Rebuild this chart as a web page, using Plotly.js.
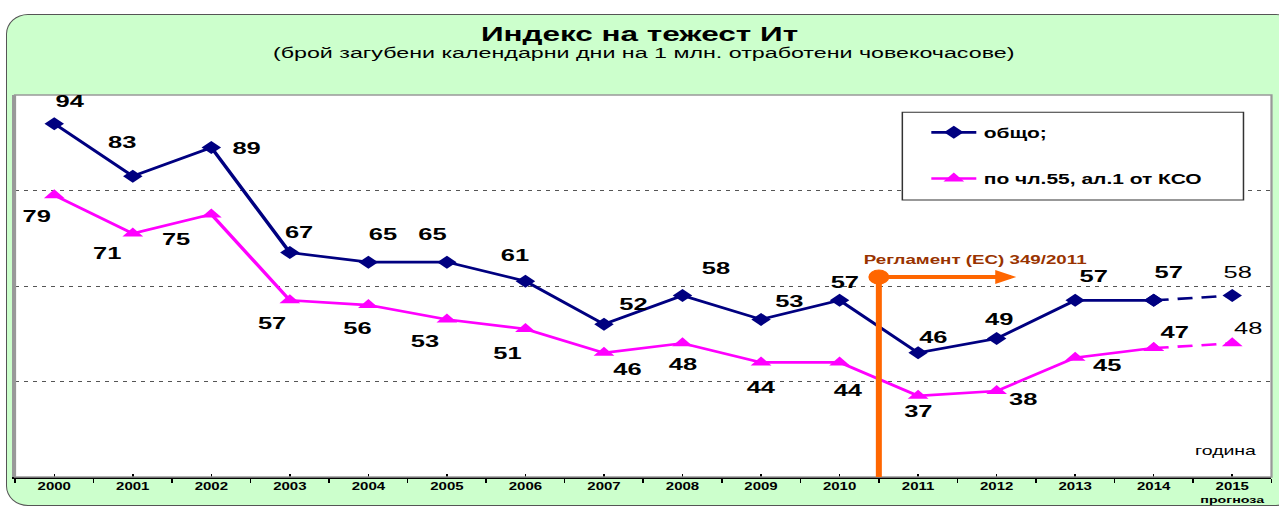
<!DOCTYPE html>
<html><head><meta charset="utf-8">
<script src="https://cdn.plot.ly/plotly-3.0.1.min.js"></script>
<style>
body{margin:0;background:#fff;overflow:hidden;}
#frame{position:absolute;left:6px;top:14px;width:1290px;height:490px;background:#ccffcc;border:1.5px solid #555;border-radius:22px/20px;}
#chart{position:absolute;left:0;top:0;width:853px;height:507px;transform:scaleX(1.49941);transform-origin:0 0;}
</style></head><body>
<div id="frame"></div><div id="chart"></div>
<script>
// ---- data ----
const years = ['2000','2001','2002','2003','2004','2005','2006','2007','2008','2009','2010','2011','2012','2013','2014','2015'];
const tickLabels = ['2000','2001','2002','2003','2004','2005','2006','2007','2008','2009','2010','2011','2012','2013','2014','2015<br><span style="font-size:9.5px">прогноза</span>'];
const total = [94, 83, 89, 67, 65, 65, 61, 52, 58, 53, 57, 46, 49, 57, 57, 58];
const art55 = [79, 71, 75, 57, 56, 53, 51, 46, 48, 44, 44, 37, 38, 45, 47, 48];
const seriesNames = ['общо;', 'по чл.55, ал.1 от КСО'];
const regulationText = 'Регламент (ЕС) 349/2011';

// ---- label offsets (px, in the final picture) ----
const totalOff = [[16,-22],[-11,-34],[36,1],[10,-20],[14,-28],[-15,-28],[-11,-26],[29,-20],[33,-27],[29,-18],[6,-18],[15,-15],[3,-19],[18,-24],[15,-28],[6,-23]];
const art55Off = [[-17,21],[-26,20],[-35,25],[-18,23],[-11,23],[-22,22],[-18,25],[23,17],[0,21],[0,25],[9,28],[0,16],[27,8],[32,8],[21,-16],[16,-15]];

const SX = 1279 / 853; // horizontal stretch of the original picture
const NAVY = '#000080', PINK = '#ff00ff', ORANGE = '#ff6600';
const FONT = 'Arial, "Liberation Sans", sans-serif';
const last = years.length - 1;
const idx = years.map((_, i) => i);

const traces = [
  {x: years.slice(0, last), y: total.slice(0, last), name: seriesNames[0], legendgroup: 'a', mode: 'lines+markers',
   line: {color: NAVY, width: 2.6}, marker: {symbol: 'diamond', size: 10, color: NAVY}},
  {x: years.slice(last - 1), y: total.slice(last - 1), showlegend: false, mode: 'lines+markers',
   line: {color: NAVY, width: 2.6, dash: '10px,6px'}, marker: {symbol: 'diamond', size: 10, color: NAVY}},
  {x: years.slice(0, last), y: art55.slice(0, last), name: seriesNames[1], legendgroup: 'b', mode: 'lines+markers',
   line: {color: PINK, width: 2.6}, marker: {symbol: 'triangle-up', size: 12, color: PINK}},
  {x: years.slice(last - 1), y: art55.slice(last - 1), showlegend: false, mode: 'lines+markers',
   line: {color: PINK, width: 2.6, dash: '10px,6px'}, marker: {symbol: 'triangle-up', size: 12, color: PINK}},
  {x: idx, y: idx.map(() => null), xaxis: 'x2', yaxis: 'y', showlegend: false, mode: 'markers', hoverinfo: 'skip'}
];

const annotations = [];
function addLabels(vals, offs) {
  vals.forEach((v, i) => {
    annotations.push({x: i, y: v, text: String(v), showarrow: false,
      xshift: offs[i][0] / SX, yshift: -offs[i][1],
      font: {family: FONT, size: 17, color: '#000', weight: i === last ? 'normal' : 'bold'}});
  });
}
addLabels(total, totalOff);
addLabels(art55, art55Off);

const regY = 61.9;
annotations.push({x: 12.25, y: regY, ax: 10.5, ay: regY, axref: 'x', ayref: 'y', text: '', showarrow: true,
  arrowcolor: ORANGE, arrowwidth: 4, arrowhead: 2, arrowsize: 0.7, startstandoff: 0});
annotations.push({x: 11.72, y: regY, text: '<b>' + regulationText + '</b>', showarrow: false, yshift: 17,
  font: {family: FONT, size: 12.5, color: '#993300'}});
annotations.push({xref: 'paper', yref: 'paper', x: 0.991, y: 0.073, xanchor: 'right', yshift: -11, text: 'година', showarrow: false,
  font: {family: FONT, size: 13, color: '#000'}});
annotations.push({xref: 'paper', yref: 'paper', x: 0.5, y: 1.0, yanchor: 'bottom', yshift: 32,
  text: '(брой загубени календарни дни на 1 млн. отработени човекочасове)', showarrow: false,
  font: {family: FONT, size: 15.5, color: '#000'}});

const layout = {
  width: 853, height: 507,
  paper_bgcolor: 'rgba(0,0,0,0)', plot_bgcolor: '#fff',
  margin: {l: 10, r: 5, t: 95, b: 30},
  title: {text: '<b>Индекс на тежест Ит</b>', x: 0.5, xanchor: 'center', y: 0.933, yanchor: 'middle',
    font: {family: FONT, size: 21, color: '#000'}},
  font: {family: FONT},
  xaxis: {type: 'category', tickvals: years, ticktext: tickLabels, range: [-0.5, 15.5],
    ticks: 'outside', tickson: 'boundaries', ticklen: 4, tickcolor: '#000', tickwidth: 1,
    showline: true, linecolor: '#000', linewidth: 1.5, showgrid: false, zeroline: false,
    tickfont: {family: FONT, size: 10, color: '#000', weight: 'bold'}},
  xaxis2: {overlaying: 'x', anchor: 'y', side: 'bottom', range: [-0.5, 15.5], tickvals: idx,
    ticks: 'inside', ticklen: 3, tickcolor: '#000', showticklabels: false, showgrid: false, zeroline: false, showline: false},
  yaxis: {range: [20, 100], dtick: 20, showticklabels: false, ticks: '',
    showgrid: true, gridcolor: '#555', griddash: 'dot', gridwidth: 1, zeroline: false,
    showline: true, linecolor: '#999', linewidth: 2},
  showlegend: true,
  legend: {x: 0.7233, y: 0.943, xanchor: 'left', yanchor: 'top', bgcolor: 'rgba(0,0,0,0)', borderwidth: 0,
    tracegroupgap: 25, font: {family: FONT, size: 14, color: '#000', weight: 'bold'}},
  shapes: [
    {type: 'rect', xref: 'paper', yref: 'paper', x0: 0, x1: 1, y0: 0, y1: 1, line: {color: '#999', width: 1.5}},
    {type: 'rect', xref: 'paper', yref: 'paper', x0: 0.7062, x1: 0.9777, y0: 0.725, y1: 0.955,
     line: {color: '#333', width: 1}, fillcolor: '#fff', layer: 'above'},
    {type: 'line', xref: 'x', yref: 'y', x0: 10.5, x1: 10.5, y0: 20, y1: regY, line: {color: ORANGE, width: 4}, layer: 'above'},
    {type: 'circle', xref: 'x', yref: 'y', xsizemode: 'pixel', ysizemode: 'pixel', xanchor: 10.5, yanchor: regY,
     x0: -6.5, x1: 6.5, y0: -7, y1: 7, fillcolor: ORANGE, line: {color: ORANGE, width: 1}, layer: 'above'}
  ],
  annotations: annotations
};

Plotly.newPlot('chart', traces, layout, {displayModeBar: false, staticPlot: true});
</script>
</body></html>
